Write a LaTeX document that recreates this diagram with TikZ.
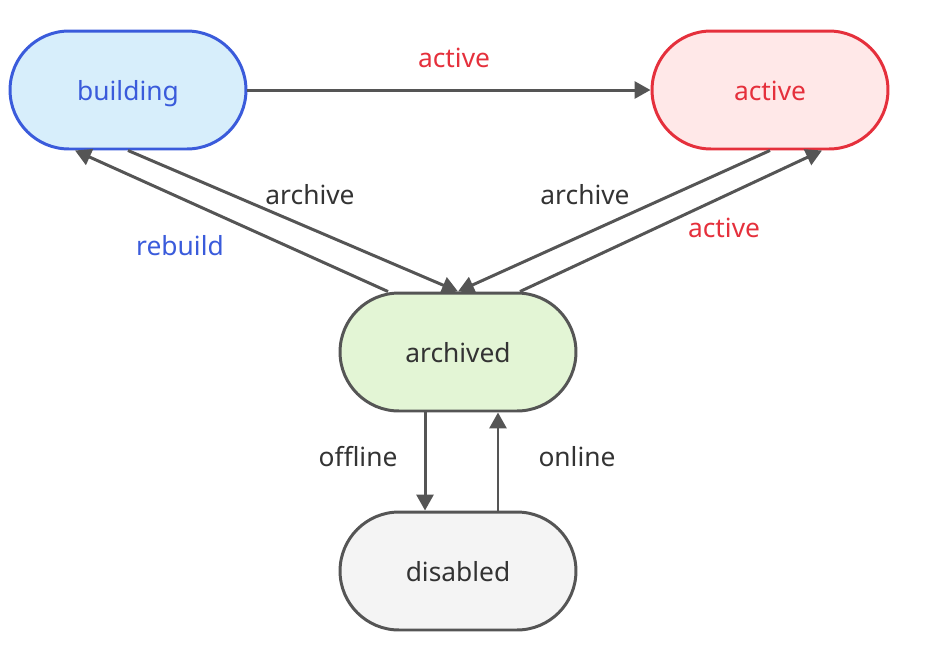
\documentclass[tikz,border=0pt]{standalone}
\usepackage{fontspec}
\setmainfont{Noto Sans}
\usepackage{tikz}
\usetikzlibrary{positioning,arrows.meta}

\definecolor{bldline}{HTML}{3A5BDB}
\definecolor{bldfill}{HTML}{D7EEFB}
\definecolor{actline}{HTML}{E5303C}
\definecolor{actfill}{HTML}{FFE8E8}
\definecolor{arcfill}{HTML}{E3F5D5}
\definecolor{disfill}{HTML}{F4F4F4}
\definecolor{edgegray}{HTML}{555555}
\definecolor{txtgray}{HTML}{333333}

\begin{document}
\begin{tikzpicture}[x=0.02cm, y=-0.02cm,
  state/.style={rectangle, rounded corners=1.18cm, minimum width=4.72cm, minimum height=2.36cm, line width=1.7pt, text height=12pt, text depth=0pt, font=\fontsize{15}{18}\selectfont},
  lbl/.style={font=\fontsize{15}{18}\selectfont, text=txtgray},
  flow/.style={draw=edgegray, line width=1.7pt, -{Triangle[length=0.32cm,width=0.34cm]}}]

\useasboundingbox (0,0) rectangle (944,664);

% State nodes
\node[state, draw=bldline, fill=bldfill, text=bldline] (building) at (128,90) {building};
\node[state, draw=actline, fill=actfill, text=actline] (active) at (770,90) {active};
\node[state, draw=edgegray, fill=arcfill, text=txtgray] (archived) at (458,352) {archived};
\node[state, draw=edgegray, fill=disfill, text=txtgray] (disabled) at (458,571) {disabled};

% Transitions
\draw[flow] (building.east) -- (active.west);
\draw[flow] (building.south) -- (archived.north);
\draw[flow] ([xshift=-1.4cm]archived.north) -- ([xshift=-1.06cm]building.south);
\draw[flow] (active.south) -- (archived.north);
\draw[flow] ([xshift=1.24cm]archived.north) -- ([xshift=1.04cm]active.south);
\draw[flow] ([xshift=-0.66cm]archived.south) -- ([xshift=-0.66cm]disabled.north);
\draw[flow] ([xshift=0.8cm]disabled.north) -- ([xshift=0.8cm]archived.south);

% Transition labels
\node[lbl, text=actline] (l-act1) at (454,58) {active};
\node[lbl] (l-arc1) at (310,195) {archive};
\node[lbl, text=bldline] (l-reb) at (180,246) {rebuild};
\node[lbl] (l-arc2) at (585,195) {archive};
\node[lbl, text=actline] (l-act2) at (724,228) {active};
\node[lbl] (l-off) at (358,457) {offline};
\node[lbl] (l-on) at (577,457) {online};
\end{tikzpicture}
\end{document}
